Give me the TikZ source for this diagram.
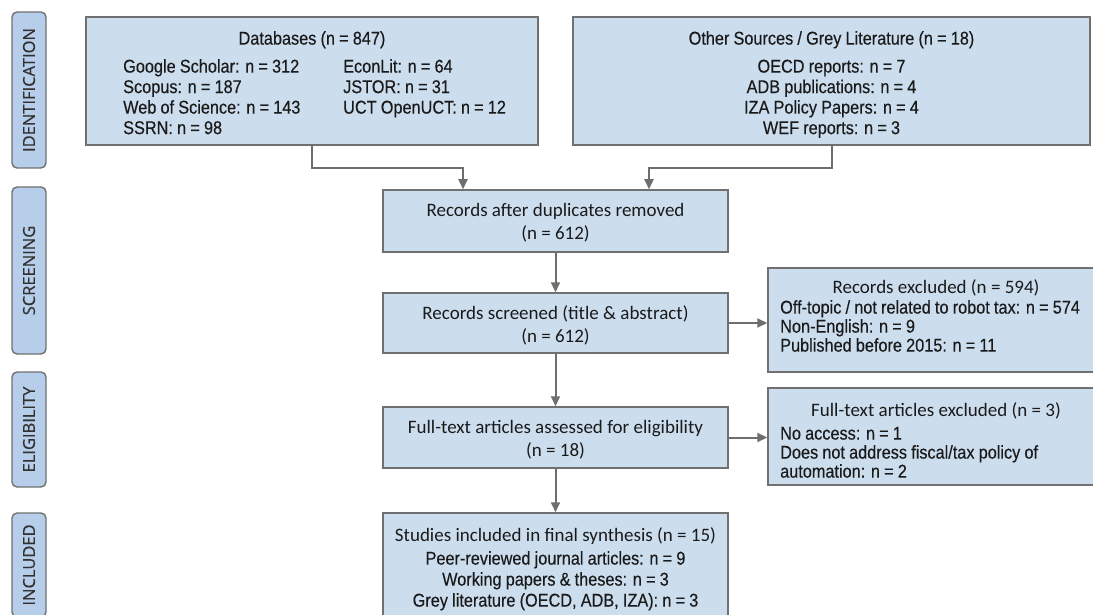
\documentclass[tikz,border=0pt]{standalone}
\usepackage{fontspec}
\setmainfont{Liberation Sans}
\newfontfamily\narrowf[FakeStretch=0.88,FakeBold=0.3,WordSpace=0.92]{Liberation Sans}
\newfontfamily\calibf{Carlito}
\newfontfamily\labf[FakeBold=0.4]{Open Sans}
\usetikzlibrary{arrows.meta,calc}
\definecolor{boxfill}{HTML}{CCDDEE}
\definecolor{labfill}{HTML}{B6CEEA}
\definecolor{edgec}{HTML}{707070}
\definecolor{arrc}{HTML}{6E6E6E}
\definecolor{txt}{HTML}{1A1A1A}
\begin{document}
\begin{tikzpicture}[x=1pt,y=-1pt,
  box/.style={draw=edgec, line width=1.5pt, fill=boxfill, inner sep=0pt, rectangle},
  phase/.style={draw=edgec, line width=1.4pt, fill=labfill, rounded corners=5pt, inner sep=0pt, rotate=90, minimum height=34pt, font=\labf\fontsize{16.5}{19}\selectfont, text=txt!90},
  nar/.style={font=\narrowf\fontsize{18.5}{20}\selectfont, inner sep=0pt, text height=13.2pt, text depth=0pt, text=txt},
  cal/.style={font=\calibf\fontsize{19}{23}\selectfont, inner sep=0pt, text height=12.2pt, text depth=0pt, text=txt},
  arr/.style={draw=arrc, line width=2pt, -{Triangle[length=10pt,width=9pt]}},
]
\clip (0,0) rectangle (1093,615);
\fill[white] (0,0) rectangle (1093,615);

% boxes
\node[box, minimum width=452pt, minimum height=128pt] (db) at (312,81) {};
\node[box, minimum width=517pt, minimum height=128pt] (oth) at (831.5,81) {};
\node[box, minimum width=345pt, minimum height=62pt] (dup) at (555.5,221) {};
\node[box, minimum width=345pt, minimum height=60pt] (scr) at (555.5,323) {};
\node[box, minimum width=345pt, minimum height=61pt] (ft) at (555.5,437.5) {};
\node[box, minimum width=345pt, minimum height=110pt] (inc) at (555.5,568) {};
\node[box, minimum width=336pt, minimum height=104pt] (rex) at (936,320) {};
\node[box, minimum width=336pt, minimum height=97pt] (fex) at (936,436.5) {};

% phase labels
\node[phase, minimum width=156pt] (p1) at (29,90) {IDENTIFICATION};
\node[phase, minimum width=167pt] (p2) at (29,270.5) {SCREENING};
\node[phase, minimum width=115pt] (p3) at (29,429.5) {ELIGIBILITY};
\node[phase, minimum width=104pt] (p4) at (29,565) {INCLUDED};

% databases
\node[nar] (dbt) at (312,38) {Databases (n = 847)};
\node[nar, anchor=west] (dba1) at (123,66) {Google Scholar: n = 312};
\node[nar, anchor=west] (dba2) at (123,86.5) {Scopus: n = 187};
\node[nar, anchor=west] (dba3) at (123,107) {Web of Science: n = 143};
\node[nar, anchor=west] (dba4) at (123,127.5) {SSRN: n = 98};
\node[nar, anchor=west] (dbb1) at (343,66) {EconLit: n = 64};
\node[nar, anchor=west] (dbb2) at (343,86.5) {JSTOR: n = 31};
\node[nar, anchor=west] (dbb3) at (343,107) {UCT OpenUCT: n = 12};

% other sources
\node[nar] (otht) at (831.5,38) {Other Sources / Grey Literature (n = 18)};
\node[nar] (oth1) at (831.5,66) {OECD reports: n = 7};
\node[nar] (oth2) at (831.5,86.5) {ADB publications: n = 4};
\node[nar] (oth3) at (831.5,107) {IZA Policy Papers: n = 4};
\node[nar] (oth4) at (831.5,127.5) {WEF reports: n = 3};

% middle column
\node[cal] (dup1) at (555.5,210) {Records after duplicates removed};
\node[cal] (dup2) at (555.5,233) {(n = 612)};
\node[cal] (scr1) at (555.5,313) {Records screened (title \& abstract)};
\node[cal] (scr2) at (555.5,336) {(n = 612)};
\node[cal] (ft1) at (555.5,427) {Full-text articles assessed for eligibility};
\node[cal] (ft2) at (555.5,450) {(n = 18)};
\node[cal] (inct) at (555.5,535) {Studies included in final synthesis (n = 15)};
\node[nar] (inc1) at (555.5,558) {Peer-reviewed journal articles: n = 9};
\node[nar] (inc2) at (555.5,579) {Working papers \& theses: n = 3};
\node[nar] (inc3) at (555.5,600) {Grey literature (OECD, ADB, IZA): n = 3};

% exclusions
\node[cal] (rext) at (936,287) {Records excluded (n = 594)};
\node[nar, anchor=west] (rex1) at (780,307) {Off-topic / not related to robot tax: n = 574};
\node[nar, anchor=west] (rex2) at (780,326) {Non-English: n = 9};
\node[nar, anchor=west] (rex3) at (780,345) {Published before 2015: n = 11};
\node[cal] (fext) at (936,410) {Full-text articles excluded (n = 3)};
\node[nar, anchor=west] (fex1) at (780,433) {No access: n = 1};
\node[nar, anchor=west] (fex2) at (780,452) {Does not address fiscal/tax policy of};
\node[nar, anchor=west] (fex3) at (780,471) {automation: n = 2};

% connectors
\coordinate (jl) at (463,168);
\coordinate (jr) at (649,168);
\draw[arr] (db.south) |- (jl) -- (jl |- dup.north);
\draw[arr] (oth.south) |- (jr) -- (jr |- dup.north);
\draw[arr] (dup) -- (scr);
\draw[arr] (scr) -- (ft);
\draw[arr] (ft) -- (inc);
\draw[arr] (scr.east) -- (scr.east -| rex.west);
\draw[arr] (ft.east) -- (ft.east -| fex.west);
\end{tikzpicture}
\end{document}
